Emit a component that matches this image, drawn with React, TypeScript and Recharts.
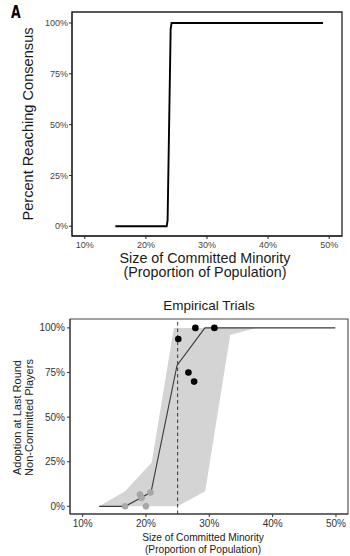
import React from "react";
import {
  ComposedChart,
  LineChart,
  Line,
  Area,
  Scatter,
  XAxis,
  YAxis,
  ReferenceLine,
  ReferenceArea,
  Label,
} from "recharts";

// ---------- Panel A: simulated consensus curve ----------
const simX = [15, 23.4, 23.55, 23.8, 24.05, 24.2, 49];
const simConsensus = [0, 0, 3, 50, 97, 100, 100];

// ---------- Empirical trials ----------
// fitted line through trial outcomes
const fitX = [12.6, 16.7, 19.3, 20.8, 24.9, 29.3, 49.9];
const fitY = [0, 0, 5, 8, 79, 100, 100];

// shaded uncertainty band
const bandX = [12.6, 16.7, 20.9, 24.4, 25.0, 29.35, 33.3, 37.3];
const bandLow = [0, 0, 0, 0, 0, 8.4, 96, 100];
const bandHigh = [0, 8.4, 24.5, 100, 100, 100, 100, 100];

// trials below the tipping point (grey) and above it (black)
const belowX = [16.7, 19.05, 19.3, 20.7, 20.0];
const belowY = [0, 6.6, 4.7, 7.8, 0];
const aboveX = [25.1, 27.8, 30.8, 26.7, 27.6];
const aboveY = [93.8, 100, 100, 75, 69.9];

const tipping = 25;

const xTicks = [10, 20, 30, 40, 50];
const yTicks = [0, 25, 50, 75, 100];
const pct = (v: number) => `${v}%`;

const simData = simX.map((x, i) => ({ x, y: simConsensus[i] }));
const fitData = fitX.map((x, i) => ({ x, y: fitY[i] }));
const bandData = bandX.map((x, i) => ({ x, band: [bandLow[i], bandHigh[i]] }));
const belowData = belowX.map((x, i) => ({ x, y: belowY[i] }));
const aboveData = aboveX.map((x, i) => ({ x, y: aboveY[i] }));

const FONT = "'Liberation Sans', Arial, sans-serif";

const TwoLineLabel = (
  lines: string[],
  dx: number,
  dy: number,
  gap: number,
  size: number,
  vertical: boolean
) =>
  function render(props: any) {
    const vb = props.viewBox || {};
    const cx = vb.x + vb.width / 2 + dx;
    const cy = vb.y + vb.height / 2 + dy;
    if (vertical) {
      return (
        <g>
          {lines.map((t, i) => (
            <text
              key={t}
              x={0}
              y={0}
              transform={`translate(${cx + i * gap}, ${cy}) rotate(-90)`}
              textAnchor="middle"
              dominantBaseline="central"
              fontSize={size}
              fontFamily={FONT}
              fill="#1a1a1a"
            >
              {t}
            </text>
          ))}
        </g>
      );
    }
    return (
      <g>
        {lines.map((t, i) => (
          <text
            key={t}
            x={cx}
            y={cy + i * gap}
            textAnchor="middle"
            dominantBaseline="central"
            fontSize={size}
            fontFamily={FONT}
            fill="#1a1a1a"
          >
            {t}
          </text>
        ))}
      </g>
    );
  };

const SimPanel = () => {
  const xDom: [number, number] = [7.9, 52.1];
  const yDom: [number, number] = [-4.8, 105.4];
  return (
    <LineChart
      width={350}
      height={282}
      data={simData}
      margin={{ top: 12, right: 8, left: 0, bottom: 0 }}
    >
      <XAxis
        dataKey="x"
        type="number"
        domain={xDom}
        allowDataOverflow
        ticks={xTicks}
        tickFormatter={pct}
        tickSize={3}
        tickMargin={3}
        height={46}
        stroke="#222"
        tick={{ fontSize: 9, fill: "#444", fontFamily: FONT }}
      >
        <Label
          content={TwoLineLabel(
            ["Size of Committed Minority", "(Proportion of Population)"],
            -2,
            -1.5,
            14.5,
            14.3,
            false
          )}
        />
      </XAxis>
      <YAxis
        type="number"
        domain={yDom}
        allowDataOverflow
        ticks={yTicks}
        tickFormatter={pct}
        tickSize={3}
        tickMargin={1}
        width={72}
        stroke="#222"
        tick={{ fontSize: 9, fill: "#444", fontFamily: FONT }}
      >
        <Label
          content={(props: any) => {
            const vb = props.viewBox || {};
            const cy = vb.y + vb.height / 2;
            return (
              <text
                transform={`translate(28, ${cy}) rotate(-90)`}
                textAnchor="middle"
                dominantBaseline="central"
                fontSize={14.6}
                fontFamily={FONT}
                fill="#1a1a1a"
              >
                Percent Reaching Consensus
              </text>
            );
          }}
        />
      </YAxis>
      <ReferenceArea
        x1={xDom[0]}
        x2={xDom[1]}
        y1={yDom[0]}
        y2={yDom[1]}
        fill="none"
        stroke="#222"
        strokeWidth={1.3}
      />
      <Line
        dataKey="y"
        type="linear"
        stroke="#000"
        strokeWidth={1.9}
        dot={false}
        isAnimationActive={false}
      />
    </LineChart>
  );
};

const EmpiricalPanel = () => {
  const xDom: [number, number] = [8, 51.9];
  const yDom: [number, number] = [-4.3, 105];
  return (
    <ComposedChart
      width={350}
      height={271}
      margin={{ top: 34, right: 2, left: 0, bottom: 0 }}
    >
      <XAxis
        dataKey="x"
        type="number"
        domain={xDom}
        allowDataOverflow
        ticks={xTicks}
        tickFormatter={pct}
        tickSize={3}
        tickMargin={3}
        height={42}
        stroke="#333"
        tick={{ fontSize: 10, fill: "#333", fontFamily: FONT }}
      >
        <Label
          content={TwoLineLabel(
            ["Size of Committed Minority", "(Proportion of Population)"],
            -6,
            2,
            12,
            10.2,
            false
          )}
        />
      </XAxis>
      <YAxis
        type="number"
        domain={yDom}
        allowDataOverflow
        ticks={yTicks}
        tickFormatter={pct}
        tickSize={3}
        tickMargin={2}
        width={70}
        stroke="#333"
        tick={{ fontSize: 10, fill: "#333", fontFamily: FONT }}
      >
        <Label
          content={(props: any) => {
            const vb = props.viewBox || {};
            const cy = vb.y + vb.height / 2 + 1;
            return (
              <g>
                {["Adoption at Last Round", "Non-Committed Players"].map((t, i) => (
                  <text
                    key={t}
                    transform={`translate(${16.7 + i * 12.6}, ${cy}) rotate(-90)`}
                    textAnchor="middle"
                    dominantBaseline="central"
                    fontSize={11}
                    fontFamily={FONT}
                    fill="#1a1a1a"
                  >
                    {t}
                  </text>
                ))}
              </g>
            );
          }}
        />
      </YAxis>
      <Area
        data={bandData}
        dataKey="band"
        type="linear"
        fill="#d4d4d4"
        fillOpacity={1}
        stroke="none"
        isAnimationActive={false}
      />
      <ReferenceArea
        x1={xDom[0]}
        x2={xDom[1]}
        y1={yDom[0]}
        y2={yDom[1]}
        fill="none"
        stroke="#444"
        strokeWidth={1.1}
      />
      <ReferenceLine
        x={tipping}
        stroke="#333"
        strokeWidth={1}
        strokeDasharray="3.5 3"
      />
      <Line
        data={fitData}
        dataKey="y"
        type="linear"
        stroke="#3a3a3a"
        strokeWidth={1.1}
        dot={false}
        isAnimationActive={false}
      />
      <Scatter
        data={belowData}
        dataKey="y"
        isAnimationActive={false}
        shape={(p: any) => (
          <circle cx={p.cx} cy={p.cy} r={3} fill="#a9a9a9" stroke="#999" strokeWidth={0.5} />
        )}
      />
      <Scatter
        data={aboveData}
        dataKey="y"
        isAnimationActive={false}
        shape={(p: any) => <circle cx={p.cx} cy={p.cy} r={3.3} fill="#000" />}
      />
    </ComposedChart>
  );
};

export default function App() {
  return (
    <div
      style={{
        position: "absolute",
        left: 0,
        top: 0,
        width: 350,
        height: 556,
        background: "#fff",
        fontFamily: FONT,
      }}
    >
      <div
        style={{
          position: "absolute",
          left: 11,
          top: 1,
          fontSize: 18.5,
          fontWeight: "bold",
          fontFamily: "'Liberation Sans Narrow', 'DejaVu Sans Condensed', Arial, sans-serif",
          transform: "scaleX(0.75)",
          transformOrigin: "left top",
          color: "#000",
          lineHeight: "22px",
        }}
      >
        A
      </div>
      <div style={{ position: "absolute", left: 0, top: 0 }}>
        <SimPanel />
      </div>
      <div
        style={{
          position: "absolute",
          left: 70,
          width: 278,
          top: 297,
          textAlign: "center",
          fontSize: 13.5,
          lineHeight: "18px",
          color: "#1a1a1a",
        }}
      >
        Empirical Trials
      </div>
      <div style={{ position: "absolute", left: 0, top: 285 }}>
        <EmpiricalPanel />
      </div>
    </div>
  );
}
